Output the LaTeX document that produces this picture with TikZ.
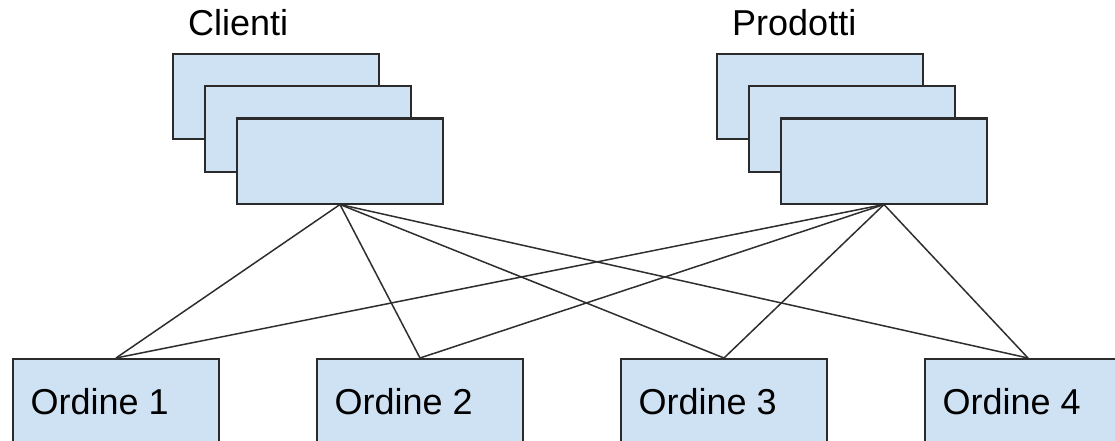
\documentclass[tikz,border=0pt]{standalone}
\usepackage{fontspec}
\setmainfont{Liberation Sans}
\definecolor{boxfill}{HTML}{CFE2F3}
\definecolor{boxline}{HTML}{2B2B2B}
\definecolor{wire}{HTML}{2E2E2E}
\begin{document}
\begin{tikzpicture}[x=1pt,y=-1pt,
  box/.style={draw=boxline, fill=boxfill, line width=2pt, minimum width=206pt, minimum height=85pt, inner sep=0pt, anchor=north west},
  obox/.style={box, minimum height=84pt},
  wirestyle/.style={draw=wire, line width=1.5pt},
  title/.style={anchor=base west, inner sep=0pt, font=\fontsize{36}{43}\selectfont},
  olabel/.style={anchor=base west, inner sep=0pt, font=\fontsize{36}{43}\selectfont}]
\useasboundingbox (0,0) rectangle (1115,441);
% stacks
\node[box] (c1) at (172,53) {};
\node[box] (c2) at (204,85.5) {};
\node[box] (c3) at (236,117.5) {};
\node[box] (p1) at (716,53) {};
\node[box] (p2) at (748,85.5) {};
\node[box] (p3) at (780,117.5) {};
\node[title] (tc) at (188,36) {Clienti};
\node[title] (tp) at (732,36) {Prodotti};
% order boxes
\node[obox] (o1) at (12,358) {};
\node[obox] (o2) at (316,358) {};
\node[obox] (o3) at (620,358) {};
\node[obox] (o4) at (924,358) {};
\node[olabel] (l1) at (30.5,414.5) {Ordine 1};
\node[olabel] (l2) at (334.5,414.5) {Ordine 2};
\node[olabel] (l3) at (638.5,414.5) {Ordine 3};
\node[olabel] (l4) at (942.5,414.5) {Ordine 4};
% connectors
\foreach \o in {o1,o2,o3,o4}{
  \draw[wirestyle] (c3.south) -- (\o.north);
  \draw[wirestyle] (p3.south) -- (\o.north);
}
\end{tikzpicture}
\end{document}
